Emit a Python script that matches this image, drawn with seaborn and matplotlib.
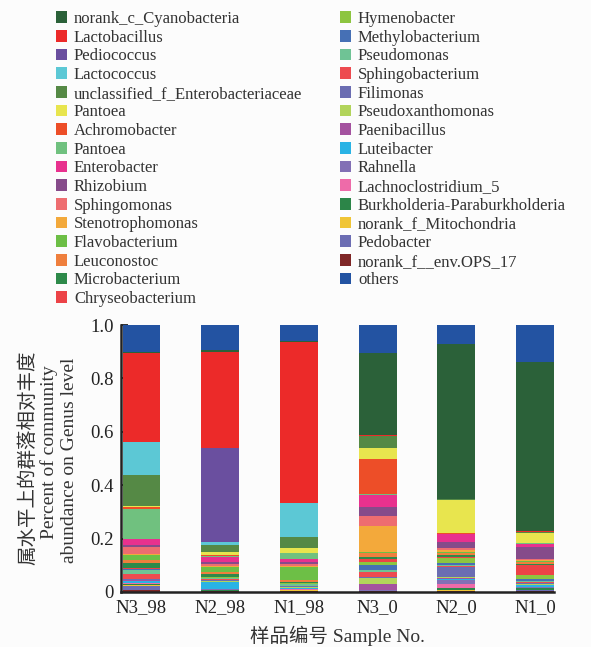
import matplotlib
matplotlib.use("Agg")
import matplotlib.pyplot as plt
import pandas as pd
import seaborn as sns
from matplotlib.patches import Patch

# Samples along the x axis
samples = ["N3_98", "N2_98", "N1_98", "N3_0", "N2_0", "N1_0"]

# Genera, in legend order (top of legend first); "others" is stacked on top
genera = [
    "norank_c_Cyanobacteria", "Lactobacillus", "Pediococcus", "Lactococcus",
    "unclassified_f_Enterobacteriaceae", "Pantoea", "Achromobacter", "Pantoea",
    "Enterobacter", "Rhizobium", "Sphingomonas", "Stenotrophomonas",
    "Flavobacterium", "Leuconostoc", "Microbacterium", "Chryseobacterium",
    "Hymenobacter", "Methylobacterium", "Pseudomonas", "Sphingobacterium",
    "Filimonas", "Pseudoxanthomonas", "Paenibacillus", "Luteibacter",
    "Rahnella", "Lachnoclostridium_5", "Burkholderia-Paraburkholderia",
    "norank_f_Mitochondria", "Pedobacter", "norank_f__env.OPS_17", "others",
]

# Relative abundance of each genus per sample (same order as `genera`)
n3_98 = [0.002, 0.335, 0.002, 0.121, 0.117, 0.005, 0.008, 0.110, 0.022, 0.008,
         0.028, 0.003, 0.020, 0.009, 0.019, 0.002, 0.002, 0.002, 0.018, 0.018,
         0.002, 0.002, 0.002, 0.008, 0.002, 0.002, 0.002, 0.006, 0.015, 0.007,
         0.101]
n2_98 = [0.008, 0.360, 0.350, 0.013, 0.027, 0.012, 0.004, 0.002, 0.019, 0.007,
         0.006, 0.004, 0.020, 0.007, 0.010, 0.002, 0.003, 0.002, 0.003, 0.004,
         0.002, 0.003, 0.003, 0.026, 0.002, 0.002, 0.002, 0.000, 0.002, 0.002,
         0.093]
n1_98 = [0.003, 0.604, 0.002, 0.127, 0.040, 0.018, 0.002, 0.020, 0.012, 0.009,
         0.008, 0.002, 0.050, 0.006, 0.003, 0.002, 0.002, 0.001, 0.006, 0.003,
         0.002, 0.003, 0.002, 0.002, 0.002, 0.001, 0.002, 0.002, 0.003, 0.002,
         0.059]
n3_0 = [0.307, 0.001, 0.000, 0.001, 0.047, 0.041, 0.130, 0.002, 0.047, 0.032,
        0.037, 0.100, 0.003, 0.016, 0.008, 0.010, 0.010, 0.019, 0.008, 0.018,
        0.003, 0.024, 0.022, 0.001, 0.002, 0.001, 0.000, 0.000, 0.002, 0.002,
        0.106]
n2_0 = [0.579, 0.001, 0.000, 0.000, 0.004, 0.124, 0.002, 0.002, 0.029, 0.024,
        0.008, 0.007, 0.003, 0.008, 0.007, 0.002, 0.020, 0.009, 0.003, 0.004,
        0.035, 0.005, 0.006, 0.002, 0.015, 0.015, 0.008, 0.002, 0.003, 0.002,
        0.071]
n1_0 = [0.635, 0.003, 0.000, 0.001, 0.004, 0.036, 0.002, 0.002, 0.011, 0.047,
        0.004, 0.002, 0.002, 0.010, 0.004, 0.037, 0.014, 0.007, 0.006, 0.002,
        0.003, 0.004, 0.002, 0.006, 0.003, 0.002, 0.007, 0.001, 0.004, 0.002,
        0.137]

ytick_values = [0.0, 0.2, 0.4, 0.6, 0.8, 1.0]
ytick_labels = ["0", "0.2", "0.4", "0.6", "0.8", "1.0"]

palette = [
    "#2b6139", "#ec2a29", "#6a4f9f", "#5cc8d5", "#558945", "#e8e54e",
    "#ed4e28", "#70c17f", "#e8318e", "#864b8a", "#ee6d70", "#f3a93b",
    "#6dbf46", "#ef7f3d", "#2e8a4a", "#ec4347", "#8dc540", "#4670b5",
    "#6fc395", "#ed4b50", "#6b6db2", "#b2d45b", "#a4529f", "#29b3e5",
    "#8270b5", "#ee6ba9", "#2c8548", "#f0c536", "#6c6db3", "#7e2626",
    "#2353a2",
]

sns.set_theme(style="ticks")
plt.rcParams["font.family"] = ["Liberation Serif", "Noto Sans CJK SC"]
bg = "#fcfcfc"

abund = pd.DataFrame(dict(zip(samples, [n3_98, n2_98, n1_98, n3_0, n2_0, n1_0])))

# bottom-to-top stacking: last legend genus first, "others" on top
n = len(genera)
stack = list(range(n - 2, -1, -1)) + [n - 1]
tops = abund.loc[stack].cumsum()

fig = plt.figure(figsize=(5.91, 6.47), dpi=100, facecolor=bg)
ax = fig.add_axes([121 / 591, 1 - 592 / 647, (554 - 121) / 591, (592 - 325) / 647])
ax.set_facecolor(bg)

# draw cumulative bars from the top layer down so each lower layer overlays
for idx in reversed(stack):
    layer = pd.DataFrame({"sample": samples, "top": tops.loc[idx, samples].values})
    sns.barplot(data=layer, x="sample", y="top", order=samples,
                color=palette[idx], saturation=1, width=0.48,
                errorbar=None, linewidth=0, ax=ax)

ax.set_xlim(-0.26, 5.24)
ax.set_ylim(0, 1.0)
ax.set_yticks(ytick_values)
ax.set_yticklabels(ytick_labels, fontsize=13.5)
ax.tick_params(axis="y", direction="in", length=5, width=1.3, pad=5, colors="#222222")
ax.tick_params(axis="x", length=0, pad=5, labelsize=13.5, colors="#222222")
ax.set_xlabel("")
ax.set_ylabel("")
for side in ("top", "right"):
    ax.spines[side].set_visible(False)
for side in ("left", "bottom"):
    ax.spines[side].set_linewidth(1.8)
    ax.spines[side].set_color("#222222")

# axis titles
fig.text(28 / 591, 1 - 458 / 647, "属水平上的群落相对丰度", rotation=90,
         ha="center", va="center", fontsize=14, color="#333333")
fig.text(49 / 591, 1 - 452 / 647, "Percent of community", rotation=90,
         ha="center", va="center", fontsize=14, color="#333333")
fig.text(69 / 591, 1 - 460 / 647, "abundance on Genus level", rotation=90,
         ha="center", va="center", fontsize=14, color="#333333")
fig.text(337 / 591, 1 - 636 / 647, "样品编号 Sample No.", ha="center",
         va="center", fontsize=14, color="#333333")

# two-column legend
handles = [Patch(facecolor=c, edgecolor="none") for c in palette]
leg_kw = dict(frameon=False, fontsize=12, handlelength=0.68, handleheight=0.68,
              handletextpad=0.4, labelspacing=0.16, borderpad=0, borderaxespad=0,
              loc="upper left", labelcolor="#333333")
fig.legend(handles[:16], genera[:16], bbox_to_anchor=(56 / 591, 1 - 11 / 647), **leg_kw)
fig.legend(handles[16:], genera[16:], bbox_to_anchor=(340 / 591, 1 - 11 / 647), **leg_kw)

fig.savefig("out.png", dpi=100, facecolor=bg)
